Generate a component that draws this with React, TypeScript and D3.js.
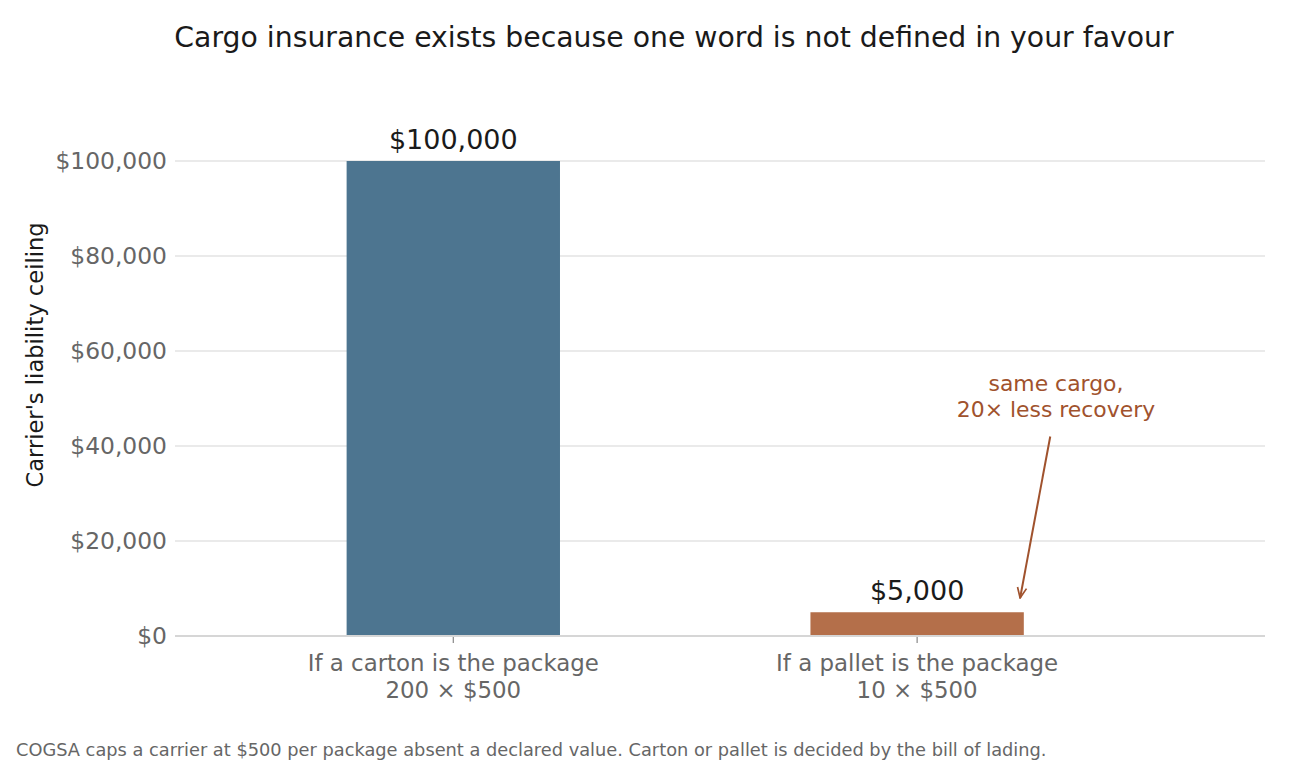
import React from "react";
import * as d3 from "d3";

const categories = ["If a carton is the package", "If a pallet is the package"];
const subLabels = ["200 × $500", "10 × $500"];
const values = [100000, 5000];
const valueLabels = ["$100,000", "$5,000"];
const barColors = ["#4d7590", "#b46f4a"];
const yTicks = [0, 20000, 40000, 60000, 80000, 100000];

const W = 1290;
const H = 765;
const FONT = "DejaVu Sans, sans-serif";

export default function App() {
  const left = 175;
  const right = 1265;
  const x = d3.scaleLinear().domain([-0.6, 1.75]).range([left, right]);
  const y = d3.scaleLinear().domain([0, 100000]).range([636, 161]);
  const barW = x(0.46) - x(0);
  const fmt = (v: number) => "$" + d3.format(",")(v);

  const arrowStart = { x: x(1.287), y: y(42000) };
  const arrowEnd = { x: x(1.222), y: y(8000) };

  return (
    <svg
      width={W}
      height={H}
      style={{ position: "absolute", left: 0, top: 0, background: "#fff" }}
      fontFamily={FONT}
    >
      <defs>
        <marker id="arr" viewBox="0 0 10 10" refX="9" refY="5" markerWidth="13" markerHeight="13" orient="auto-start-reverse" markerUnits="userSpaceOnUse">
          <path d="M1,1.5 L9,5 L1,8.5" fill="none" stroke="#a0522d" strokeWidth="1.3" />
        </marker>
      </defs>
      <text x={674} y={47} textAnchor="middle" fontSize={28.3} fill="#1a1a1a">
        Cargo insurance exists because one word is not defined in your favour
      </text>

      {yTicks.map((t) => (
        <g key={t}>
          {t > 0 && <line x1={left} x2={right} y1={y(t)} y2={y(t)} stroke="#e3e3e3" strokeWidth={1.5} />}
          <text x={167} y={y(t)} dy="0.35em" textAnchor="end" fontSize={23.4} fill="#666">
            {fmt(t)}
          </text>
        </g>
      ))}

      <text
        transform={`translate(43,355) rotate(-90)`}
        textAnchor="middle"
        fontSize={22.6}
        fill="#1a1a1a"
      >
        Carrier's liability ceiling
      </text>

      {values.map((v, i) => (
        <g key={i}>
          <rect x={x(i) - barW / 2} y={y(v)} width={barW} height={y(0) - y(v)} fill={barColors[i]} />
          <text x={x(i)} y={y(v) - 12} textAnchor="middle" fontSize={27} fill="#1a1a1a">
            {valueLabels[i]}
          </text>
          <line x1={x(i)} x2={x(i)} y1={636} y2={643} stroke="#888" strokeWidth={1.2} />
          <text x={x(i)} y={671} textAnchor="middle" fontSize={22.9} fill="#666">
            {categories[i]}
          </text>
          <text x={x(i)} y={698} textAnchor="middle" fontSize={22.9} fill="#666">
            {subLabels[i]}
          </text>
        </g>
      ))}

      <line x1={left} x2={right} y1={636} y2={636} stroke="#d6d6d6" strokeWidth={2} />

      <text x={1056} y={391} textAnchor="middle" fontSize={21.9} fill="#a0522d">
        same cargo,
      </text>
      <text x={1056} y={417} textAnchor="middle" fontSize={21.9} fill="#a0522d">
        20× less recovery
      </text>
      <line
        x1={arrowStart.x}
        y1={arrowStart.y}
        x2={arrowEnd.x}
        y2={arrowEnd.y}
        stroke="#a0522d"
        strokeWidth={2}
        markerEnd="url(#arr)"
      />

      <text x={16} y={756} fontSize={17.8} fill="#666">
        COGSA caps a carrier at $500 per package absent a declared value. Carton or pallet is decided by the bill of lading.
      </text>
    </svg>
  );
}
